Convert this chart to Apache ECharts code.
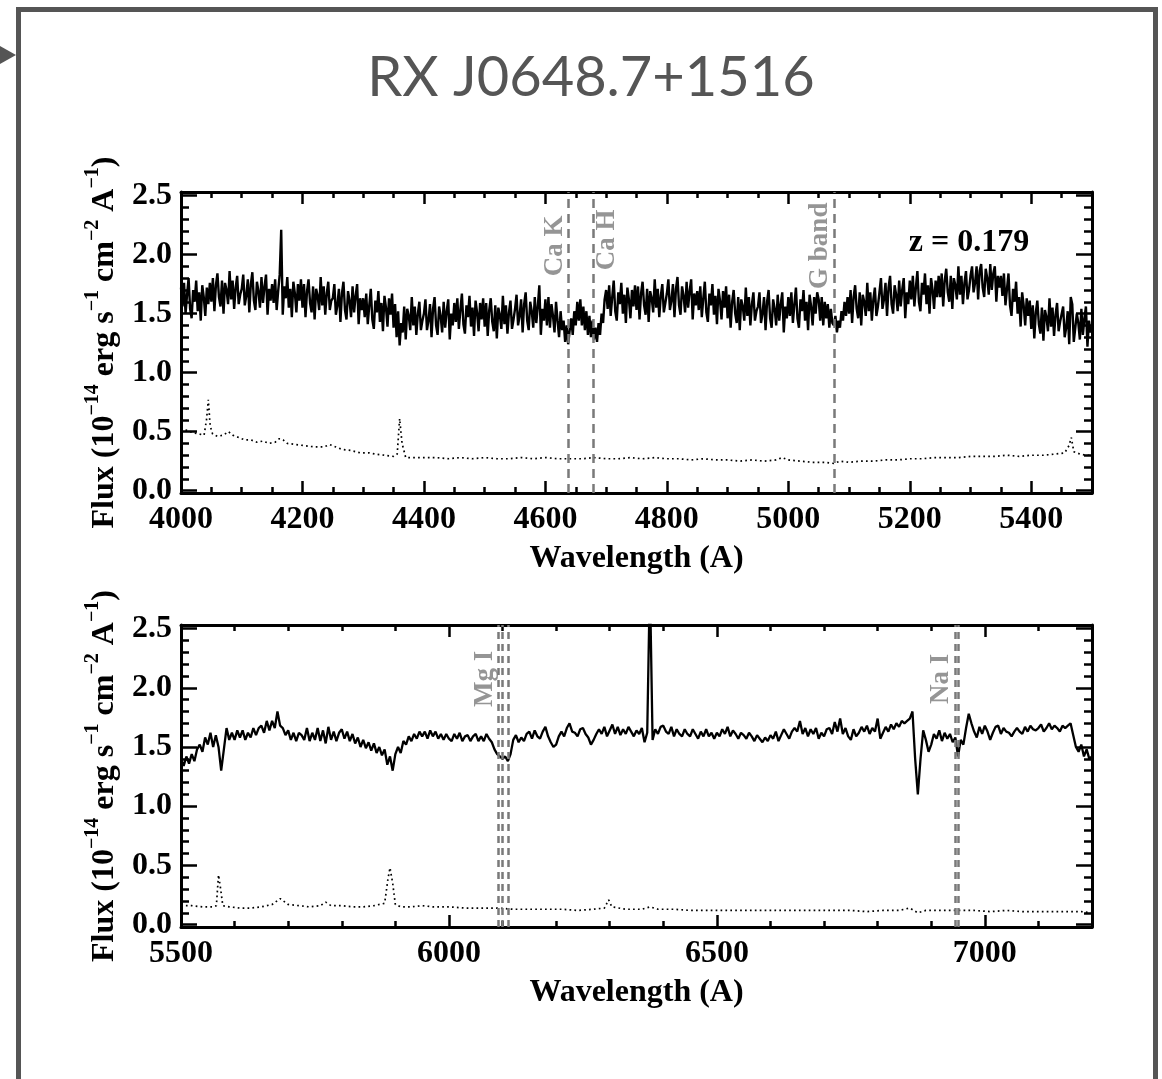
<!DOCTYPE html>
<html>
<head>
<meta charset="utf-8">
<title>RX J0648.7+1516</title>
<script src="https://cdn.jsdelivr.net/npm/echarts@6/dist/echarts.min.js"></script>
<style>
  html, body { margin: 0; padding: 0; background: #fff; }
  #chart { width: 1162px; height: 1079px; }
</style>
</head>
<body>
<div id="chart"></div>
<script>
// ---- Spectrum, blue arm: 4000-5500 A, 2.5 A per pixel (flux in 1e-14 erg/s/cm2/A)
const TOP_START = 4000;
const TOP_STEP = 2.5;
const topFlux = [
  1.72,1.56,1.76,1.50,1.66,1.80,1.54,1.46,1.70,1.60,1.78,1.52,1.68,1.44,1.74,1.64,1.48,1.72,1.58,1.76,
  1.60,1.80,1.52,1.74,1.84,1.64,1.56,1.78,1.50,1.76,1.70,1.58,1.86,1.62,1.78,1.54,1.72,1.82,1.58,1.66,
  1.71,1.83,1.57,1.65,1.79,1.51,1.75,1.85,1.61,1.53,1.77,1.69,1.55,1.81,1.59,1.73,1.83,1.49,1.71,1.61,
  1.75,1.59,1.79,1.53,1.69,1.83,2.21,1.49,1.73,1.63,1.81,1.55,1.71,1.47,1.77,1.67,1.51,1.75,1.61,1.79,
  1.55,1.75,1.47,1.69,1.79,1.59,1.51,1.73,1.45,1.71,1.65,1.53,1.81,1.57,1.73,1.49,1.67,1.77,1.53,1.61,
  1.63,1.75,1.49,1.57,1.71,1.43,1.67,1.77,1.53,1.45,1.69,1.61,1.47,1.73,1.51,1.65,1.75,1.41,1.63,1.53,
  1.63,1.47,1.67,1.41,1.57,1.71,1.45,1.37,1.61,1.51,1.69,1.43,1.59,1.35,1.65,1.55,1.39,1.63,1.49,1.67,
  1.38,1.58,1.30,1.52,1.23,1.42,1.34,1.56,1.28,1.54,1.48,1.36,1.64,1.40,1.56,1.32,1.50,1.60,1.36,1.44,
  1.50,1.62,1.36,1.44,1.58,1.30,1.54,1.64,1.40,1.32,1.56,1.48,1.34,1.60,1.38,1.52,1.62,1.28,1.50,1.40,
  1.59,1.43,1.63,1.37,1.53,1.67,1.41,1.33,1.57,1.47,1.65,1.39,1.55,1.31,1.61,1.51,1.35,1.59,1.45,1.63,
  1.39,1.59,1.31,1.53,1.63,1.43,1.35,1.57,1.29,1.55,1.49,1.37,1.65,1.41,1.57,1.33,1.51,1.61,1.37,1.45,
  1.54,1.66,1.40,1.48,1.62,1.34,1.58,1.68,1.44,1.36,1.60,1.52,1.38,1.64,1.42,1.56,1.74,1.32,1.54,1.44,
  1.62,1.40,1.64,1.38,1.58,1.48,1.34,1.60,1.44,1.30,1.52,1.36,1.44,1.26,1.40,1.24,1.36,1.46,1.32,1.52,
  1.40,1.60,1.44,1.62,1.40,1.56,1.36,1.52,1.32,1.48,1.30,1.44,1.28,1.38,1.26,1.42,1.32,1.50,1.42,1.62,
  1.70,1.54,1.74,1.48,1.64,1.78,1.52,1.44,1.68,1.58,1.76,1.50,1.66,1.42,1.72,1.62,1.46,1.70,1.56,1.74,
  1.53,1.73,1.45,1.67,1.77,1.57,1.49,1.71,1.43,1.69,1.63,1.51,1.79,1.55,1.71,1.47,1.65,1.75,1.51,1.59,
  1.67,1.79,1.53,1.61,1.75,1.47,1.71,1.81,1.57,1.49,1.73,1.65,1.51,1.77,1.55,1.69,1.79,1.45,1.67,1.57,
  1.69,1.53,1.73,1.47,1.63,1.77,1.51,1.43,1.67,1.57,1.75,1.49,1.65,1.41,1.71,1.61,1.45,1.69,1.55,1.73,
  1.46,1.66,1.38,1.60,1.70,1.50,1.42,1.64,1.36,1.62,1.56,1.44,1.72,1.48,1.64,1.40,1.58,1.68,1.44,1.52,
  1.56,1.68,1.42,1.50,1.64,1.36,1.60,1.70,1.46,1.38,1.62,1.54,1.40,1.66,1.44,1.58,1.68,1.34,1.56,1.46,
  1.64,1.48,1.68,1.42,1.58,1.72,1.46,1.38,1.62,1.52,1.70,1.44,1.60,1.36,1.66,1.56,1.40,1.64,1.50,1.68,
  1.62,1.44,1.64,1.40,1.60,1.46,1.58,1.38,1.54,1.42,1.40,1.48,1.34,1.44,1.38,1.52,1.44,1.60,1.48,1.64,
  1.50,1.70,1.42,1.64,1.74,1.54,1.46,1.68,1.40,1.66,1.60,1.48,1.76,1.52,1.68,1.44,1.62,1.72,1.48,1.56,
  1.68,1.80,1.54,1.62,1.76,1.48,1.72,1.82,1.58,1.50,1.74,1.66,1.52,1.78,1.56,1.70,1.80,1.46,1.68,1.58,
  1.78,1.62,1.82,1.56,1.72,1.86,1.60,1.52,1.76,1.66,1.84,1.58,1.74,1.50,1.80,1.70,1.54,1.78,1.64,1.82,
  1.64,1.84,1.56,1.78,1.88,1.68,1.60,1.82,1.54,1.80,1.74,1.62,1.90,1.66,1.82,1.58,1.76,1.86,1.62,1.70,
  1.82,1.90,1.68,1.76,1.90,1.62,1.86,1.92,1.72,1.64,1.88,1.80,1.66,1.92,1.70,1.84,1.90,1.60,1.82,1.72,
  1.82,1.65,1.84,1.57,1.71,1.84,1.57,1.48,1.71,1.60,1.77,1.50,1.64,1.39,1.68,1.57,1.40,1.63,1.48,1.61,
  1.37,1.57,1.29,1.51,1.61,1.41,1.33,1.55,1.27,1.53,1.47,1.35,1.63,1.39,1.55,1.31,1.49,1.59,1.35,1.43,
  1.44,1.56,1.30,1.38,1.52,1.24,1.64,1.58,1.26,1.26,1.50,1.42,1.28,1.54,1.32,1.46,1.56,1.22,1.44,1.34,
  1.36
];

// ---- Error spectrum, blue arm
const topErrWave = [
  4000,4010,4020,4030,4038,4042,4045,4048,4052,4060,4070,4078,4085,4095,4105,4115,4125,4135,4145,4155,
  4162,4168,4175,4190,4205,4220,4235,4245,4255,4265,4280,4295,4310,4320,4335,4350,4356,4360,4364,4370,
  4385,4400,4420,4440,4460,4480,4500,4520,4540,4560,4580,4600,4620,4640,4660,4680,4700,4720,4740,4760,
  4780,4800,4820,4840,4860,4880,4900,4920,4940,4960,4980,4990,5000,5020,5040,5060,5075,5085,5100,5120,
  5140,5160,5180,5200,5220,5240,5260,5280,5300,5320,5340,5360,5380,5400,5420,5440,5455,5462,5466,5470,
  5480,5490,5500
];
const topErrFlux = [
  0.53,0.51,0.49,0.48,0.47,0.60,0.77,0.55,0.48,0.46,0.47,0.50,0.47,0.45,0.43,0.43,0.41,0.42,0.40,0.41,
  0.44,0.43,0.40,0.39,0.38,0.37,0.37,0.39,0.37,0.35,0.34,0.32,0.32,0.31,0.30,0.29,0.31,0.61,0.40,0.28,
  0.28,0.28,0.28,0.27,0.28,0.27,0.28,0.27,0.27,0.28,0.27,0.28,0.27,0.27,0.27,0.28,0.27,0.27,0.28,0.27,
  0.28,0.27,0.27,0.26,0.27,0.26,0.26,0.25,0.26,0.25,0.26,0.28,0.26,0.25,0.24,0.24,0.23,0.25,0.24,0.25,
  0.25,0.26,0.26,0.27,0.27,0.28,0.28,0.28,0.29,0.29,0.29,0.30,0.29,0.30,0.30,0.31,0.32,0.38,0.45,0.33,
  0.31,0.30,0.30
];

// ---- Spectrum, red arm: 5500-7200 A, 5 A per pixel
const BOT_START = 5500;
const BOT_STEP = 5;
const botFlux = [
  1.40,1.34,1.42,1.36,1.44,1.38,1.48,1.52,1.46,1.58,
  1.52,1.62,1.50,1.60,1.50,1.30,1.48,1.66,1.56,1.62,
  1.56,1.64,1.58,1.64,1.56,1.62,1.58,1.66,1.60,1.66,
  1.68,1.62,1.72,1.64,1.72,1.66,1.80,1.68,1.66,1.60,
  1.64,1.56,1.62,1.55,1.62,1.60,1.56,1.66,1.55,1.62,
  1.56,1.66,1.55,1.64,1.53,1.67,1.56,1.63,1.55,1.62,
  1.65,1.57,1.63,1.55,1.61,1.53,1.58,1.50,1.56,1.49,
  1.54,1.47,1.53,1.45,1.50,1.43,1.48,1.35,1.42,1.30,
  1.44,1.50,1.45,1.55,1.52,1.59,1.55,1.61,1.57,1.63,
  1.59,1.63,1.57,1.64,1.59,1.63,1.57,1.61,1.56,1.61,
  1.57,1.55,1.61,1.57,1.62,1.55,1.59,1.60,1.55,1.59,
  1.61,1.55,1.59,1.55,1.61,1.57,1.54,1.48,1.44,1.42,
  1.40,1.42,1.38,1.44,1.56,1.60,1.54,1.58,1.55,1.61,
  1.63,1.57,1.64,1.59,1.57,1.63,1.67,1.59,1.54,1.50,
  1.52,1.59,1.63,1.59,1.66,1.70,1.63,1.62,1.59,1.65,
  1.66,1.61,1.58,1.52,1.56,1.61,1.65,1.61,1.67,1.59,
  1.64,1.69,1.61,1.67,1.60,1.65,1.61,1.67,1.63,1.59,
  1.64,1.61,1.66,1.54,1.62,2.90,1.56,1.65,1.61,1.67,
  1.68,1.63,1.61,1.67,1.59,1.65,1.61,1.59,1.65,1.61,
  1.59,1.65,1.61,1.57,1.63,1.59,1.65,1.59,1.62,1.57,
  1.62,1.59,1.65,1.61,1.67,1.59,1.64,1.61,1.57,1.62,
  1.60,1.57,1.62,1.59,1.55,1.60,1.57,1.54,1.58,1.55,
  1.60,1.57,1.63,1.55,1.60,1.65,1.61,1.57,1.63,1.66,
  1.63,1.72,1.61,1.66,1.59,1.65,1.61,1.66,1.57,1.62,
  1.59,1.65,1.66,1.61,1.71,1.63,1.74,1.61,1.66,1.59,
  1.56,1.65,1.59,1.62,1.67,1.63,1.68,1.61,1.66,1.63,
  1.74,1.57,1.62,1.67,1.63,1.69,1.65,1.70,1.67,1.72,
  1.70,1.72,1.74,1.80,1.40,1.10,1.40,1.64,1.56,1.46,
  1.52,1.61,1.57,1.64,1.55,1.62,1.57,1.61,1.54,1.58,
  1.42,1.56,1.52,1.66,1.78,1.70,1.63,1.58,1.67,1.61,
  1.68,1.63,1.56,1.62,1.67,1.68,1.61,1.66,1.63,1.62,
  1.59,1.63,1.66,1.63,1.61,1.67,1.63,1.68,1.65,1.64,
  1.66,1.69,1.63,1.66,1.70,1.65,1.68,1.66,1.63,1.68,
  1.66,1.68,1.70,1.60,1.50,1.46,1.52,1.42,1.48,1.40,
  1.42
];

// ---- Error spectrum, red arm
const botErrWave = [
  5500,5520,5540,5560,5566,5570,5574,5578,5590,5610,5630,5650,5670,5685,5700,5720,5740,5760,5770,5780,
  5800,5820,5840,5860,5880,5886,5890,5895,5900,5910,5930,5950,5970,6000,6030,6060,6090,6120,6150,6180,
  6210,6240,6270,6290,6298,6304,6330,6360,6375,6390,6420,6450,6480,6510,6540,6570,6600,6630,6660,6690,
  6720,6750,6780,6810,6840,6860,6875,6890,6920,6950,6980,7010,7040,7070,7100,7130,7160,7180,7200
];
const botErrFlux = [
  0.16,0.16,0.15,0.15,0.16,0.42,0.30,0.16,0.15,0.14,0.14,0.15,0.17,0.22,0.17,0.16,0.15,0.16,0.19,0.16,
  0.16,0.15,0.15,0.16,0.18,0.38,0.48,0.35,0.17,0.15,0.15,0.16,0.15,0.15,0.14,0.14,0.14,0.13,0.13,0.13,
  0.13,0.12,0.13,0.14,0.21,0.15,0.13,0.13,0.15,0.13,0.13,0.12,0.12,0.12,0.12,0.12,0.12,0.12,0.12,0.12,
  0.12,0.12,0.11,0.12,0.12,0.14,0.10,0.12,0.12,0.12,0.12,0.11,0.12,0.11,0.11,0.11,0.11,0.11,0.10
];

// ---- Absorption features at z = 0.179 (observed wavelengths)
const topLineNames = ['Ca K', 'Ca H', 'G band'];
const topLineWaves = [4638, 4679, 5075];
const topLineSides = ['left', 'right', 'left'];
const mgWaves = [6092, 6099, 6111];
const naWaves = [6944, 6951];
const LABEL_FLUX = 2.1;   // feature names are centred at this flux level

// ---- Axis ticks
const topXMajor = [4000, 4200, 4400, 4600, 4800, 5000, 5200, 5400];
const topXMinor = [4050, 4100, 4150, 4250, 4300, 4350, 4450, 4500, 4550, 4650, 4700, 4750,
                   4850, 4900, 4950, 5050, 5100, 5150, 5250, 5300, 5350, 5450];
const botXMajor = [5500, 6000, 6500, 7000];
const botXMinor = [5600, 5700, 5800, 5900, 6100, 6200, 6300, 6400, 6600, 6700, 6800, 6900, 7100];
const yMajor = [0, 0.5, 1.0, 1.5, 2.0, 2.5];
const yMinor = [0.1, 0.2, 0.3, 0.4, 0.6, 0.7, 0.8, 0.9, 1.1, 1.2, 1.3, 1.4,
                1.6, 1.7, 1.8, 1.9, 2.1, 2.2, 2.3, 2.4];

const Y_MIN = -0.02, Y_MAX = 2.53;
const SERIF = '"Liberation Serif", "DejaVu Serif", serif';
const GRAY = '#7a7a7a';
const FRAME = '#555555';
const FS = 32;

const gridBoxes = [
  { left: 181, top: 192, width: 911, height: 301 },
  { left: 181, top: 625, width: 911, height: 302 }
];

function xAxesFor(gi, min, max, major, minor) {
  const base = {
    type: 'value', gridIndex: gi, min: min, max: max,
    splitLine: { show: false }
  };
  const line = { show: true, onZero: false, lineStyle: { color: '#000', width: 3 } };
  const noLine = { show: false, onZero: false };
  return [
    Object.assign({}, base, {
      position: 'bottom',
      axisLine: line,
      axisTick: { show: true, inside: true, length: 12, customValues: major, lineStyle: { color: '#000', width: 2.5 } },
      axisLabel: {
        show: true, customValues: major, margin: 11,
        formatter: v => String(v),
        fontFamily: SERIF, fontWeight: 'bold', fontSize: FS, color: '#000'
      },
      name: 'Wavelength (A)', nameLocation: 'middle', nameGap: 50,
      nameTextStyle: { fontFamily: SERIF, fontWeight: 'bold', fontSize: FS, color: '#000' }
    }),
    Object.assign({}, base, {
      position: 'bottom', axisLine: noLine,
      axisTick: { show: true, inside: true, length: 6, customValues: minor, lineStyle: { color: '#000', width: 2.5 } },
      axisLabel: { show: false }
    }),
    Object.assign({}, base, {
      position: 'top', axisLine: line,
      axisTick: { show: true, inside: true, length: 12, customValues: major, lineStyle: { color: '#000', width: 2.5 } },
      axisLabel: { show: false }
    }),
    Object.assign({}, base, {
      position: 'top', axisLine: noLine,
      axisTick: { show: true, inside: true, length: 6, customValues: minor, lineStyle: { color: '#000', width: 2.5 } },
      axisLabel: { show: false }
    })
  ];
}

function yAxesFor(gi) {
  const base = {
    type: 'value', gridIndex: gi, min: Y_MIN, max: Y_MAX,
    splitLine: { show: false }
  };
  const line = { show: true, onZero: false, lineStyle: { color: '#000', width: 3 } };
  const noLine = { show: false, onZero: false };
  return [
    Object.assign({}, base, {
      position: 'left', axisLine: line,
      axisTick: { show: true, inside: true, length: 16, customValues: yMajor, lineStyle: { color: '#000', width: 2.5 } },
      axisLabel: {
        show: true, customValues: yMajor, margin: 9,
        formatter: v => v.toFixed(1),
        fontFamily: SERIF, fontWeight: 'bold', fontSize: FS, color: '#000'
      },
      name: '{b|Flux (10}{s|\u221214}{b| erg s}{s|\u22121}{b| cm}{s|\u22122}{b| A}{s|\u22121}{b|)}',
      nameLocation: 'middle', nameRotate: 90, nameGap: 60,
      nameTextStyle: {
        fontFamily: SERIF, fontWeight: 'bold', fontSize: FS, color: '#000',
        rich: {
          b: { fontFamily: SERIF, fontWeight: 'bold', fontSize: FS, color: '#000', lineHeight: 38, verticalAlign: 'bottom' },
          s: { fontFamily: SERIF, fontWeight: 'bold', fontSize: 20, color: '#000', lineHeight: 38, verticalAlign: 'top' }
        }
      }
    }),
    Object.assign({}, base, {
      position: 'left', axisLine: noLine,
      axisTick: { show: true, inside: true, length: 8, customValues: yMinor, lineStyle: { color: '#000', width: 2.5 } },
      axisLabel: { show: false }
    }),
    Object.assign({}, base, {
      position: 'right', axisLine: line,
      axisTick: { show: true, inside: true, length: 16, customValues: yMajor, lineStyle: { color: '#000', width: 2.5 } },
      axisLabel: { show: false }
    }),
    Object.assign({}, base, {
      position: 'right', axisLine: noLine,
      axisTick: { show: true, inside: true, length: 8, customValues: yMinor, lineStyle: { color: '#000', width: 2.5 } },
      axisLabel: { show: false }
    })
  ];
}

// Rotated feature name beside its marker line, centred vertically on LABEL_FLUX
function featurePoint(name, wave, side) {
  return {
    name: name,
    value: [wave, LABEL_FLUX],
    label: {
      verticalAlign: side === 'left' ? 'bottom' : 'top',
      offset: side === 'left' ? [-3, 0] : [3, 0]
    }
  };
}

const featureLabelStyle = {
  show: true, position: 'inside', rotate: 90, align: 'center',
  formatter: p => p.name,
  fontFamily: SERIF, fontWeight: 'bold', fontSize: 27, color: GRAY
};

const topData = topFlux.map((f, i) => [TOP_START + i * TOP_STEP, f]);
const botData = botFlux.map((f, i) => [BOT_START + i * BOT_STEP, f]);
const topErrData = topErrWave.map((w, i) => [w, topErrFlux[i]]);
const botErrData = botErrWave.map((w, i) => [w, botErrFlux[i]]);

const chart = echarts.init(document.getElementById('chart'), null, { renderer: 'canvas' });

chart.setOption({
  animation: false,
  backgroundColor: '#fff',
  grid: gridBoxes,
  xAxis: [].concat(
    xAxesFor(0, 4000, 5500, topXMajor, topXMinor),
    xAxesFor(1, 5500, 7200, botXMajor, botXMinor)
  ),
  yAxis: [].concat(yAxesFor(0), yAxesFor(1)),
  graphic: [
    {
      type: 'rect', silent: true,
      shape: { x: 18.5, y: 9.5, width: 1137, height: 1100 },
      style: { fill: 'none', stroke: FRAME, lineWidth: 5 }
    },
    {
      type: 'polygon', silent: true,
      shape: { points: [[0, 46], [16, 55], [0, 64]] },
      style: { fill: FRAME }
    },
    {
      type: 'text', silent: true, x: 591, y: 78,
      style: {
        text: 'RX J0648.7+1516', align: 'center', verticalAlign: 'middle',
        font: '56px Lato, "Open Sans", sans-serif', fill: FRAME
      }
    },
    {
      type: 'text', silent: true, x: 969, y: 243,
      style: {
        text: 'z = 0.179', align: 'center', verticalAlign: 'middle',
        font: 'bold 32px "Liberation Serif", serif', fill: '#000'
      }
    }
  ],
  series: [
    {
      type: 'line', name: 'error blue', xAxisIndex: 0, yAxisIndex: 0,
      data: topErrData, showSymbol: false, clip: true,
      lineStyle: { color: '#000', width: 1.7, type: [1.7, 3.2] }
    },
    {
      type: 'line', name: 'flux blue', xAxisIndex: 0, yAxisIndex: 0,
      data: topData, showSymbol: false, clip: true,
      lineStyle: { color: '#000', width: 2.4 },
      markLine: {
        silent: true, symbol: 'none', animation: false,
        label: { show: false },
        lineStyle: { color: GRAY, width: 2.5, type: [9, 6] },
        data: topLineWaves.map(w => ({ xAxis: w }))
      }
    },
    {
      type: 'scatter', name: 'feature names blue', xAxisIndex: 0, yAxisIndex: 0,
      symbolSize: 0, silent: true,
      label: featureLabelStyle,
      data: topLineWaves.map((w, i) => featurePoint(topLineNames[i], w, topLineSides[i]))
    },
    {
      type: 'line', name: 'error red', xAxisIndex: 4, yAxisIndex: 4,
      data: botErrData, showSymbol: false, clip: true,
      lineStyle: { color: '#000', width: 1.7, type: [1.7, 3.2] }
    },
    {
      type: 'line', name: 'flux red', xAxisIndex: 4, yAxisIndex: 4,
      data: botData, showSymbol: false, clip: true,
      lineStyle: { color: '#000', width: 2.3 },
      markLine: {
        silent: true, symbol: 'none', animation: false,
        label: { show: false },
        lineStyle: { color: GRAY, width: 2.5, type: [7, 5] },
        data: mgWaves.concat(naWaves).map(w => ({ xAxis: w }))
      }
    },
    {
      type: 'scatter', name: 'feature names red', xAxisIndex: 4, yAxisIndex: 4,
      symbolSize: 0, silent: true,
      label: featureLabelStyle,
      data: [featurePoint('Mg I', mgWaves[0], 'left'), featurePoint('Na I', naWaves[0], 'left')]
    }
  ]
});
</script>
</body>
</html>
